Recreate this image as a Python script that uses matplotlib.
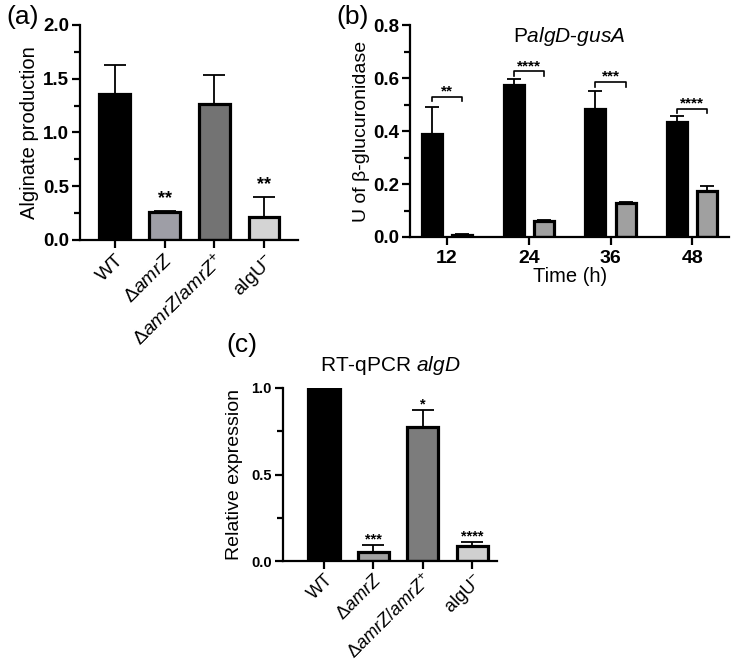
import matplotlib
matplotlib.use("Agg")
import matplotlib.pyplot as plt
import numpy as np
from matplotlib.ticker import MultipleLocator, FormatStrFormatter

plt.rcParams['font.family'] = ['Liberation Sans', 'DejaVu Sans']
plt.rcParams['mathtext.fontset'] = 'custom'
plt.rcParams['mathtext.rm'] = 'Liberation Sans'
plt.rcParams['mathtext.it'] = 'Liberation Sans:italic'
plt.rcParams['mathtext.bf'] = 'Liberation Sans:bold'

# ---- data ----
strains = ["WT", r"$\mathit{ΔamrZ}$", r"$\mathit{ΔamrZ/amrZ}^{+}$", r"$\mathrm{algU}^{-}$"]

alginate = [1.36, 0.26, 1.26, 0.21]
alginate_err = [0.27, 0.01, 0.27, 0.19]
alginate_sig = ["", "**", "", "**"]

times = ["12", "24", "36", "48"]
gus_wt = [0.39, 0.575, 0.485, 0.435]
gus_wt_err = [0.10, 0.02, 0.065, 0.022]
gus_mut = [0.008, 0.06, 0.13, 0.175]
gus_mut_err = [0.003, 0.003, 0.003, 0.018]
gus_sig = ["**", "****", "***", "****"]
gus_bracket = [0.53, 0.625, 0.585, 0.485]

rel_expr = [1.0, 0.055, 0.775, 0.09]
rel_expr_err = [0.0, 0.04, 0.095, 0.02]
rel_sig = ["", "***", "*", "****"]

colors_a = ["black", "#9e9ea6", "#737373", "#d4d4d4"]
colors_c = ["black", "#a0a0a0", "#7c7c7c", "#d0d0d0"]

fig = plt.figure(figsize=(7.35, 6.62), dpi=100)

def style(ax, tsize):
    for s in ['top', 'right']:
        ax.spines[s].set_visible(False)
    for s in ['left', 'bottom']:
        ax.spines[s].set_linewidth(1.6)
    ax.tick_params(axis='both', which='major', width=1.6, length=6, direction='out')
    ax.tick_params(axis='y', which='minor', width=1.6, length=4, direction='out')
    ax.tick_params(axis='y', labelsize=tsize, pad=2)
    for lab in ax.get_yticklabels():
        lab.set_fontweight('bold')

def upper_err(ax, x, y, e, capsize):
    ax.errorbar(x, y, yerr=[np.zeros(len(e)), e], fmt='none', ecolor='black',
                elinewidth=1.3, capsize=capsize, capthick=1.3, zorder=1)

# ---- panel a ----
axa = fig.add_axes([0.109, 0.6375, 0.296, 0.325])
xa = np.arange(len(strains))
upper_err(axa, xa, alginate, alginate_err, 8)
axa.bar(xa, alginate, width=0.62, color=colors_a, edgecolor='black', linewidth=2.3, zorder=2)
for i, s in enumerate(alginate_sig):
    if s:
        axa.text(xa[i], alginate[i] + alginate_err[i] + 0.04, s, ha='center', va='bottom',
                 fontsize=13, fontweight='bold')
axa.set_xlim(-0.7, 3.68)
axa.set_ylim(0, 2.0)
axa.yaxis.set_major_locator(MultipleLocator(0.5))
axa.yaxis.set_minor_locator(MultipleLocator(0.25))
axa.yaxis.set_major_formatter(FormatStrFormatter('%.1f'))
axa.set_xticks(xa)
axa.set_xticklabels(strains, rotation=45, ha='right', rotation_mode='anchor', fontsize=14)
axa.set_ylabel("Alginate production", fontsize=14.5, labelpad=3)
style(axa, 13.5)
axa.tick_params(axis='x', pad=2)
fig.text(0.008, 0.993, "(a)", fontsize=19, va='top', ha='left')

# ---- panel b ----
axb = fig.add_axes([0.558, 0.642, 0.434, 0.32])
xb = np.arange(len(times))
off = 0.185
w = 0.245
upper_err(axb, xb - off, gus_wt, gus_wt_err, 5)
upper_err(axb, xb + off, gus_mut, gus_mut_err, 5)
axb.bar(xb - off, gus_wt, width=w, color='black', edgecolor='black', linewidth=2.3, zorder=2)
axb.bar(xb + off, gus_mut, width=w, color='#a0a0a0', edgecolor='black', linewidth=2.3, zorder=2)
for i in range(len(times)):
    yb = gus_bracket[i]
    axb.plot([xb[i] - off, xb[i] - off, xb[i] + off, xb[i] + off],
             [yb - 0.018, yb, yb, yb - 0.018], color='black', lw=1.2)
    axb.text(xb[i], yb - 0.006, gus_sig[i], ha='center', va='bottom', fontsize=11, fontweight='bold')
axb.set_xlim(-0.45, 3.45)
axb.set_ylim(0, 0.8)
axb.yaxis.set_major_locator(MultipleLocator(0.2))
axb.yaxis.set_minor_locator(MultipleLocator(0.1))
axb.yaxis.set_major_formatter(FormatStrFormatter('%.1f'))
axb.set_xticks(xb)
axb.set_xticklabels(times, fontsize=14, fontweight='bold')
axb.set_xlabel("Time (h)", fontsize=14.5, labelpad=0)
axb.set_ylabel("U of β-glucuronidase", fontsize=14, labelpad=2)
axb.text(1.5, 0.80, r"P$\mathit{algD}$-$\mathit{gusA}$", ha='center', va='top', fontsize=15)
style(axb, 13.5)
fig.text(0.458, 0.993, "(b)", fontsize=19, va='top', ha='left')

# ---- panel c ----
axc = fig.add_axes([0.385, 0.152, 0.291, 0.262])
xc = np.arange(len(strains))
upper_err(axc, xc, rel_expr, rel_expr_err, 8)
axc.bar(xc, rel_expr, width=0.63, color=colors_c, edgecolor='black', linewidth=2.3, zorder=2)
for i, s in enumerate(rel_sig):
    if s:
        axc.text(xc[i], rel_expr[i] + rel_expr_err[i] - 0.008, s, ha='center', va='bottom',
                 fontsize=10.5, fontweight='bold')
axc.set_xlim(-0.83, 3.5)
axc.set_ylim(0, 1.0)
axc.yaxis.set_major_locator(MultipleLocator(0.5))
axc.yaxis.set_minor_locator(MultipleLocator(0.25))
axc.yaxis.set_major_formatter(FormatStrFormatter('%.1f'))
axc.set_xticks(xc)
axc.set_xticklabels(strains, rotation=45, ha='right', rotation_mode='anchor', fontsize=13)
axc.set_ylabel("Relative expression", fontsize=14, labelpad=6)
axc.set_title(r"RT-qPCR $\mathit{algD}$", fontsize=15, pad=12)
style(axc, 10.5)
axc.tick_params(axis='x', pad=1)
fig.text(0.308, 0.497, "(c)", fontsize=19, va='top', ha='left')

fig.savefig("out.png", dpi=100)
